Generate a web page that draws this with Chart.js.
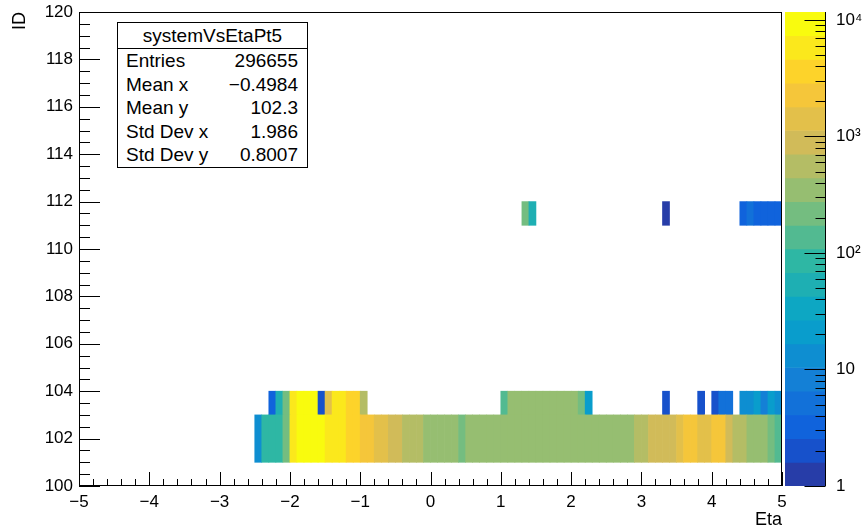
<!DOCTYPE html>
<html>
<head>
<meta charset="utf-8">
<title>systemVsEtaPt5</title>
<script src="https://cdn.jsdelivr.net/npm/chart.js@4.4.1/dist/chart.umd.min.js"></script>
<style>
  html, body { margin: 0; padding: 0; background: #fff; }
  #wrap { position: relative; width: 863px; height: 531px; font-family: "Liberation Sans", Arial, sans-serif; }
  #wrap canvas { position: absolute; left: 0; top: 0; }
  .stats { position: absolute; left: 117px; top: 22px; width: 191px; height: 146px; box-sizing: border-box;
           border: 1px solid #000; background: #fff; font-size: 19px; color: #000; }
  .stats .head { height: 25px; line-height: 25px; text-align: center; border-bottom: 1px solid #000; }
  .stats .row { position: absolute; left: 8px; right: 9px; height: 23px; line-height: 23px;
                display: flex; justify-content: space-between; }
</style>
</head>
<body>
<div id="wrap">
  <canvas id="hist" width="863" height="531"></canvas>
  <canvas id="pal" width="863" height="531"></canvas>
  <div class="stats" id="stats"></div>
</div>
<script>
// eta bin width
const ETA_BIN = 0.1;

// filled ID bands (lower / upper edge)
const idLow  = [101, 103, 111];
const idHigh = [103, 104, 112];

// ID 101-103 : low edge of each eta bin and its entries
const etaRow1 = [-2.5, -2.4, -2.3, -2.2, -2.1, -2.0, -1.9, -1.8, -1.7, -1.6, -1.5, -1.4, -1.3, -1.2, -1.1,
  -1.0, -0.9, -0.8, -0.7, -0.6, -0.5, -0.4, -0.3, -0.2, -0.1, 0.0, 0.1, 0.2, 0.3, 0.4,
  0.5, 0.6, 0.7, 0.8, 0.9, 1.0, 1.1, 1.2, 1.3, 1.4, 1.5, 1.6, 1.7, 1.8, 1.9, 2.0, 2.1, 2.2, 2.3, 2.4,
  2.5, 2.6, 2.7, 2.8, 2.9, 3.0, 3.1, 3.2, 3.3, 3.4, 3.5, 3.6, 3.7, 3.8, 3.9, 4.0, 4.1, 4.2, 4.3, 4.4,
  4.5, 4.6, 4.7, 4.8, 4.9];
const countRow1 = [13, 88, 92, 84, 210, 6100, 9800, 10400, 9900, 8600, 6400, 5900, 5200, 4100, 3500,
  2500, 2100, 1600, 1300, 1000, 820, 640, 560, 480, 420, 390, 360, 340, 330, 250,
  320, 330, 330, 340, 330, 340, 350, 340, 350, 360, 350, 350, 360, 350, 350, 340, 350, 360, 350, 340,
  350, 360, 380, 410, 470, 560, 760, 850, 920, 1050, 1250, 2000, 2200, 1600, 1500, 2000, 1900, 1000, 650, 520,
  420, 360, 300, 220, 150];

// ID 103-104
const etaRow2 = [-2.3, -2.2, -2.1, -2.0, -1.9, -1.8, -1.7, -1.6, -1.5, -1.4, -1.3, -1.2, -1.1, -1.0,
  1.0, 1.1, 1.2, 1.3, 1.4, 1.5, 1.6, 1.7, 1.8, 1.9, 2.0, 2.1, 2.2,
  3.3, 3.8, 4.0, 4.1, 4.2, 4.4, 4.5, 4.6, 4.7, 4.8, 4.9];
const countRow2 = [3, 55, 200, 5500, 9000, 9600, 8200, 2, 1300, 5600, 5000, 4000, 3200, 500,
  150, 310, 330, 340, 350, 330, 340, 350, 330, 340, 320, 230, 20,
  2, 2, 2, 5, 5, 13, 12, 20, 9, 19, 14];

// ID 111-112
const etaRow3 = [1.3, 1.4, 3.3, 4.4, 4.5, 4.6, 4.7, 4.8, 4.9];
const countRow3 = [220, 50, 1, 3, 5, 3, 3, 3, 3];

// z range of the colour scale and number of contours
const zMin = 1;
const zMax = 11700;
const nContours = 20;
const zLabels = ['1', '10', '10\u00b2', '10\u00b3', '10\u2074'];

// stats box
const statNames = ['Entries', 'Mean x', 'Mean y', 'Std Dev x', 'Std Dev y'];
const statValues = ['296655', '\u22120.4984', '102.3', '1.986', '0.8007'];

// ROOT kBird palette
const birdStops = [0.0, 0.125, 0.25, 0.375, 0.5, 0.625, 0.75, 0.875, 1.0];
const birdR = [0.2082, 0.0592, 0.0780, 0.0232, 0.1802, 0.5301, 0.8186, 0.9956, 0.9764];
const birdG = [0.1664, 0.3599, 0.5041, 0.6419, 0.7178, 0.7492, 0.7328, 0.7862, 0.9832];
const birdB = [0.5293, 0.8684, 0.8385, 0.7914, 0.6425, 0.4662, 0.3499, 0.1968, 0.0539];

function birdColor(t) {
  let i = 0;
  while (i < birdStops.length - 2 && t > birdStops[i + 1]) i++;
  const f = (t - birdStops[i]) / (birdStops[i + 1] - birdStops[i]);
  const c = arr => Math.round(255 * (arr[i] + (arr[i + 1] - arr[i]) * f));
  return `rgb(${c(birdR)},${c(birdG)},${c(birdB)})`;
}
function bandOf(v) {
  const k = Math.floor(nContours * Math.log10(v / zMin) / Math.log10(zMax / zMin));
  return Math.max(0, Math.min(nContours - 1, k));
}
function bandColor(k) {
  const idx = Math.floor((k + 0.99) * 255 / nContours);
  return birdColor(idx / 254);
}

const FONT = '"Liberation Sans", Arial, sans-serif';
Chart.defaults.font.family = FONT;
Chart.defaults.color = '#000';

const rows = [[etaRow1, countRow1], [etaRow2, countRow2], [etaRow3, countRow3]];
const histSets = rows.map(([eta, cnt], r) => ({
  data: eta.map(e => ({ x: e + ETA_BIN / 2, y: [idLow[r], idHigh[r]] })),
  backgroundColor: cnt.map(c => bandColor(bandOf(c))),
  borderWidth: 0,
  grouped: false,
  barPercentage: 1,
  categoryPercentage: 1
}));

const minus = v => String(v).replace('-', '\u2212');

// inward ROOT-style ticks and frame
const rootFrame = {
  id: 'rootFrame',
  afterDatasetsDraw(chart) {
    const { ctx, chartArea: a, scales: { x, y } } = chart;
    ctx.save();
    ctx.strokeStyle = '#000';
    ctx.lineWidth = 1;
    ctx.beginPath();
    const xt = x.ticks.map(t => t.value);
    xt.forEach((v, i) => {
      const px = Math.round(x.getPixelForValue(v)) + 0.5;
      ctx.moveTo(px, a.bottom); ctx.lineTo(px, a.bottom - 14);
      if (i < xt.length - 1) {
        for (let k = 1; k < 5; k++) {
          const m = Math.round(x.getPixelForValue(v + k * (xt[i + 1] - v) / 5)) + 0.5;
          ctx.moveTo(m, a.bottom); ctx.lineTo(m, a.bottom - 7);
        }
      }
    });
    const yt = y.ticks.map(t => t.value);
    yt.forEach((v, i) => {
      const py = Math.round(y.getPixelForValue(v)) + 0.5;
      ctx.moveTo(a.left, py); ctx.lineTo(a.left + 21, py);
      if (i < yt.length - 1) {
        for (let k = 1; k < 4; k++) {
          const m = Math.round(y.getPixelForValue(v + k * (yt[i + 1] - v) / 4)) + 0.5;
          ctx.moveTo(a.left, m); ctx.lineTo(a.left + 11, m);
        }
      }
    });
    ctx.stroke();
    ctx.strokeRect(Math.round(a.left) + 0.5, Math.round(a.top) + 0.5,
      Math.round(a.right - a.left) - 1, Math.round(a.bottom - a.top) - 1);
    ctx.restore();
  }
};

new Chart(document.getElementById('hist'), {
  type: 'bar',
  data: { datasets: histSets },
  options: {
    responsive: false,
    animation: false,
    layout: { padding: { top: 12, right: 81, left: 0, bottom: 0 } },
    plugins: { legend: { display: false }, tooltip: { enabled: false } },
    scales: {
      x: {
        type: 'linear', min: -5, max: 5, offset: false,
        grid: { display: false, drawTicks: false }, border: { display: false },
        ticks: { stepSize: 1, padding: 6, font: { size: 17 }, callback: v => minus(v) },
        title: { display: true, text: 'Eta', align: 'end', font: { size: 18 }, padding: { top: 0, bottom: 0 } },
        afterFit: s => { s.height = 45; s.paddingLeft = 0; s.paddingRight = 0; }
      },
      y: {
        type: 'linear', min: 100, max: 120,
        grid: { display: false, drawTicks: false }, border: { display: false },
        ticks: { stepSize: 2, padding: 6, font: { size: 17 } },
        title: { display: true, text: 'ID', align: 'end', font: { size: 18 }, padding: { top: 9, bottom: 0 } },
        afterFit: s => { s.width = 79; s.paddingTop = 0; s.paddingBottom = 0; }
      }
    }
  },
  plugins: [rootFrame]
});

// colour scale
const bandEdges = [];
for (let k = 0; k <= nContours; k++) bandEdges.push(zMin * Math.pow(zMax / zMin, k / nContours));
const palData = [];
const palColors = [];
for (let k = 0; k < nContours; k++) {
  palData.push({ x: 'z', y: [bandEdges[k], bandEdges[k + 1]] });
  palColors.push(bandColor(k));
}

const palTicks = {
  id: 'palTicks',
  afterDatasetsDraw(chart) {
    const { ctx, chartArea: a, scales: { y } } = chart;
    ctx.save();
    ctx.strokeStyle = '#000';
    ctx.lineWidth = 1;
    ctx.beginPath();
    const xr = Math.round(a.right) - 0.5;
    ctx.moveTo(xr, a.top); ctx.lineTo(xr, a.bottom);
    for (let d = 1; d <= zMax; d *= 10) {
      for (let m = 1; m < 10; m++) {
        const v = m * d;
        if (v > zMax) break;
        const py = Math.round(y.getPixelForValue(v)) + 0.5;
        ctx.moveTo(xr, py); ctx.lineTo(xr - (m === 1 ? 21 : 10), py);
      }
    }
    ctx.stroke();
    ctx.restore();
  }
};

new Chart(document.getElementById('pal'), {
  type: 'bar',
  data: {
    labels: ['z'],
    datasets: [{
      data: palData, backgroundColor: palColors, borderWidth: 0,
      grouped: false, barPercentage: 1, categoryPercentage: 1
    }]
  },
  options: {
    responsive: false,
    animation: false,
    layout: { padding: { top: 12, left: 785, bottom: 45, right: 0 } },
    plugins: { legend: { display: false }, tooltip: { enabled: false } },
    scales: {
      x: { display: false },
      y: {
        type: 'logarithmic', position: 'right', min: zMin, max: zMax,
        grid: { display: false, drawTicks: false }, border: { display: false },
        ticks: {
          autoSkip: false, padding: 10, font: { size: 17 },
          callback: v => {
            const l = Math.log10(v);
            return Math.abs(l - Math.round(l)) < 1e-9 ? (zLabels[Math.round(l)] || '') : '';
          }
        },
        afterFit: s => { s.width = 37; s.paddingTop = 0; s.paddingBottom = 0; }
      }
    }
  },
  plugins: [palTicks]
});

// stats box
const box = document.getElementById('stats');
const head = document.createElement('div');
head.className = 'head';
head.textContent = 'systemVsEtaPt5';
box.appendChild(head);
statNames.forEach((n, i) => {
  const r = document.createElement('div');
  r.className = 'row';
  r.style.top = (26 + i * 23.5) + 'px';
  r.innerHTML = '<span>' + n + '</span><span>' + statValues[i] + '</span>';
  box.appendChild(r);
});
</script>
</body>
</html>
